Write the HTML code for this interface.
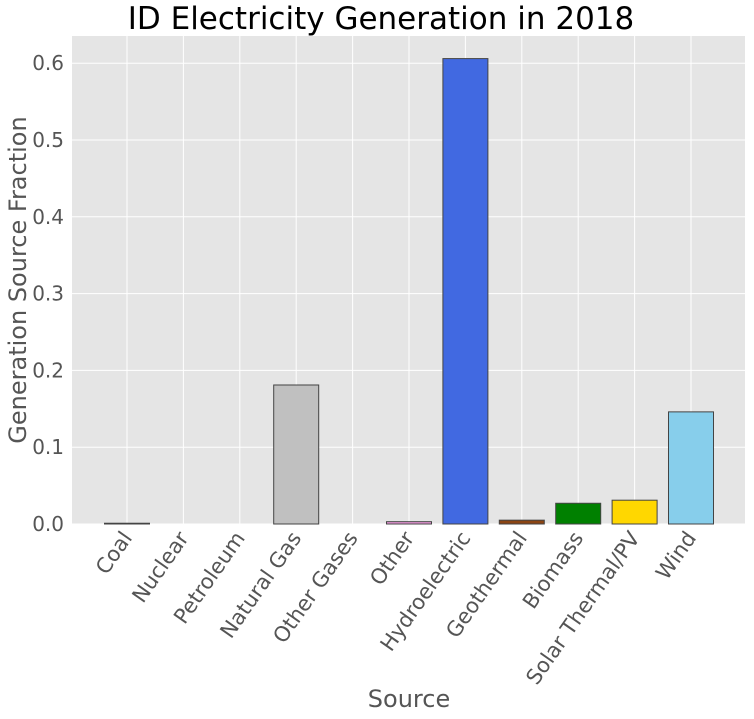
<!DOCTYPE html>
<html><head><meta charset="utf-8"><style>body{margin:0;background:#fff}svg{display:block;font-family:"DejaVu Sans","Liberation Sans",sans-serif}</style></head>
<body>
<svg id="chart" width="754" height="719">
<rect x="72" y="36" width="673" height="488" fill="#E5E5E5"/>
<g id="grid"></g><g id="bars"></g><g id="ticks"></g>
<text x="381" y="29" font-size="31" text-anchor="middle" fill="#000">ID Electricity Generation in 2018</text>
<text x="409" y="707" font-size="24" text-anchor="middle" fill="#555">Source</text>
<text transform="translate(26,280) rotate(-90)" font-size="24" text-anchor="middle" fill="#555">Generation Source Fraction</text>
</svg>
<script>
const categories=["Coal","Nuclear","Petroleum","Natural Gas","Other Gases","Other","Hydroelectric","Geothermal","Biomass","Solar Thermal/PV","Wind"];
const values=[0.001,0,0,0.181,0,0.003,0.606,0.005,0.027,0.031,0.146];
const colors=["#333333","#ff0000","#8b0000","#c0c0c0","#808080","#ee99dd","#4169e1","#8b4513","#008000","#ffd700","#87ceeb"];
const yTicks=[0,0.1,0.2,0.3,0.4,0.5,0.6];
const yTickLabels=["0.0","0.1","0.2","0.3","0.4","0.5","0.6"];
const NS="http://www.w3.org/2000/svg";
const x0=127,step=56.4,bw=45;
const xs=i=>x0+i*step;
const ys=v=>524-v*768;
function mk(t,a,p){const e=document.createElementNS(NS,t);for(const k in a)e.setAttribute(k,a[k]);p.appendChild(e);return e;}
const grid=document.getElementById('grid'),bars=document.getElementById('bars'),ticks=document.getElementById('ticks');
yTicks.forEach((v,i)=>{
 const l=mk('line',{x1:72,x2:745,y1:ys(v),y2:ys(v),stroke:'#fff','stroke-width':1},grid);
 
 
 const t=mk('text',{x:64,y:ys(v)+7,'font-size':20,'text-anchor':'end',fill:'#555'},ticks);
 t.textContent=yTickLabels[i];
 
 
});
categories.forEach((c,i)=>{
 const x=xs(i);
 const g=mk('line',{x1:x,x2:x,y1:36,y2:524,stroke:'#fff','stroke-width':1},grid);
 
 
 const h=values[i]*768;
 const r=mk('rect',{x:x-bw/2,y:ys(values[i]),width:bw,height:h,fill:colors[i],stroke:'#444','stroke-width':h>0?1:0},bars);
 
 
 const t=mk('text',{transform:`translate(${x+6},${538}) rotate(-55)`,'font-size':21,'text-anchor':'end',fill:'#555'},ticks);
 t.textContent=c;
 
 
});
</script>
</body></html>
